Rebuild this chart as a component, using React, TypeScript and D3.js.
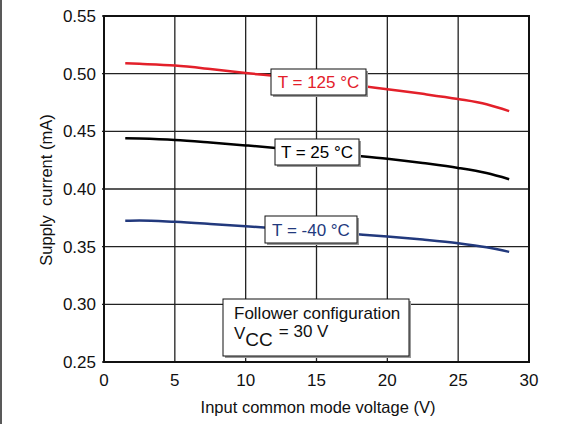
import React from 'react';
import * as d3 from 'd3';

const voltage = [1.5, 2.5, 5, 7.5, 10, 12.5, 15, 17.5, 20, 22.5, 25, 27, 28.6];
const current125 = [0.509, 0.5085, 0.507, 0.504, 0.5005, 0.4975, 0.494, 0.4905, 0.4865, 0.4825, 0.478, 0.4735, 0.4675];
const current25 = [0.444, 0.4437, 0.4425, 0.4403, 0.4378, 0.4352, 0.4323, 0.4293, 0.4262, 0.4225, 0.4183, 0.4138, 0.4085];
const currentM40 = [0.3725, 0.3727, 0.3715, 0.3697, 0.3677, 0.3656, 0.3633, 0.3611, 0.3589, 0.3562, 0.353, 0.3495, 0.3455];

const xTicks = [0, 5, 10, 15, 20, 25, 30];
const yTicks = [0.25, 0.3, 0.35, 0.4, 0.45, 0.5, 0.55];

const series = [
  { name: 'T = 125 °C', values: current125, color: '#e3202a', label: { x: 271, y: 69, w: 95, h: 26 } },
  { name: 'T = 25 °C', values: current25, color: '#000000', label: { x: 275, y: 139, w: 84, h: 26 } },
  { name: 'T = -40 °C', values: currentM40, color: '#22397d', label: { x: 265, y: 216, w: 92, h: 27 } },
];

const font = 'Liberation Sans, Arial, Helvetica, sans-serif';

export default function App() {
  const width = 576;
  const height = 424;
  const margin = { top: 16, right: 47, bottom: 62, left: 104 };

  const x = d3.scaleLinear().domain([0, 30]).range([margin.left, width - margin.right]);
  const y = d3.scaleLinear().domain([0.25, 0.55]).range([height - margin.bottom, margin.top]);

  const line = d3
    .line<number>()
    .x((_, i) => x(voltage[i]))
    .y((d) => y(d))
    .curve(d3.curveMonotoneX);

  return (
    <svg
      width={width}
      height={height}
      style={{ position: 'absolute', left: 0, top: 0, background: '#fff' }}
      fontFamily={font}
    >
      <rect x={0} y={0} width={width} height={height} fill="#fff" />
      <line x1={1} x2={1} y1={0} y2={height} stroke="#222" strokeWidth={1.5} />

      {xTicks.map((t) => (
        <line key={'gx' + t} x1={x(t)} x2={x(t)} y1={y(0.55)} y2={y(0.25)} stroke="#222" strokeWidth={1.3} />
      ))}
      {yTicks.map((t) => (
        <line key={'gy' + t} x1={x(0) - 2} x2={x(30)} y1={y(t)} y2={y(t)} stroke="#222" strokeWidth={1.3} />
      ))}
      <rect
        x={x(0)}
        y={y(0.55)}
        width={x(30) - x(0)}
        height={y(0.25) - y(0.55)}
        fill="none"
        stroke="#111"
        strokeWidth={2}
      />

      {yTicks.map((t) => (
        <text key={'ty' + t} x={x(0) - 8} y={y(t)} dy="0.35em" textAnchor="end" fontSize={17} fill="#111">
          {d3.format('.2f')(t)}
        </text>
      ))}
      {xTicks.map((t) => (
        <text key={'tx' + t} x={x(t)} y={y(0.25) + 24} textAnchor="middle" fontSize={17} fill="#111">
          {t}
        </text>
      ))}

      <text x={318} y={413} textAnchor="middle" fontSize={16.5} fill="#111">
        Input common mode voltage (V)
      </text>
      <text
        transform={`translate(52,190) rotate(-90)`}
        textAnchor="middle"
        fontSize={16.5}
        fill="#111"
        style={{ whiteSpace: 'pre' }}
      >
        {'Supply  current (mA)'}
      </text>

      {series.map((s) => (
        <path key={s.name} d={line(s.values) || ''} fill="none" stroke={s.color} strokeWidth={2.5} />
      ))}

      {series.map((s) => (
        <g key={'l' + s.name}>
          <rect x={s.label.x + 2} y={s.label.y + 2} width={s.label.w} height={s.label.h} fill="#999" />
          <rect x={s.label.x} y={s.label.y} width={s.label.w} height={s.label.h} fill="#fff" stroke="#111" strokeWidth={1} />
          <text
            x={s.label.x + s.label.w / 2}
            y={s.label.y + s.label.h / 2}
            dy="0.36em"
            textAnchor="middle"
            fontSize={17}
            fill={s.color}
          >
            {s.name}
          </text>
        </g>
      ))}

      <g>
        <rect x={225} y={301} width={186} height={57} fill="#999" />
        <rect x={223} y={299} width={186} height={57} fill="#fff" stroke="#111" strokeWidth={1} />
        <text x={234} y={319} fontSize={17} fill="#111">
          Follower configuration
        </text>
        <text x={234} y={339} fontSize={17} fill="#111">
          V
          <tspan fontSize={19} dy={7}>CC</tspan>
          <tspan fontSize={17} dx={6} dy={-9}>{'= 30 V'}</tspan>
        </text>
      </g>
    </svg>
  );
}
